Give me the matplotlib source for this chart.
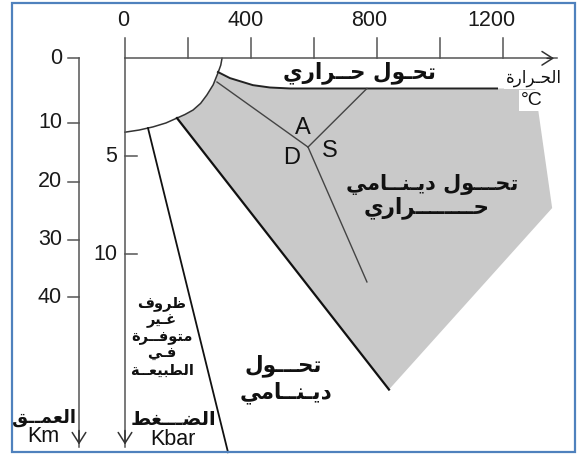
import numpy as np
import matplotlib
matplotlib.use("Agg")
import matplotlib.pyplot as plt
from matplotlib.patches import Polygon, Rectangle

# ---------------- data (temperature in °C, pressure in kbar) ----------------
temp_ticks = [0, 200, 400, 600, 800, 1000, 1200]
temp_labels = ["0", "", "400", "", "800", "", "1200"]
pressure_ticks = [5, 10]
pressure_labels = ["5", "10"]
depth_labels = ["0", "10", "20", "30", "40"]
depth_tick_P = [0.0, 3.3, 6.3, 9.27, 12.18]   # where the km ticks sit on the kbar scale

# limit of metamorphism (diagenesis arc)
arc_T = [308, 304, 295, 280, 260, 240, 216, 190, 165, 130, 89, 45, 0]
arc_P = [0.0, 0.35, 0.75, 1.35, 1.87, 2.30, 2.64, 2.87, 3.05, 3.30, 3.50, 3.66, 3.77]

# lower limit of contact (thermal) metamorphism
contact_T = [295, 333, 406, 460, 524, 1181]
contact_P = [0.70, 1.01, 1.37, 1.49, 1.54, 1.54]

# outer edge of the dynamo-thermal field
field_T = [1302, 1356, 838]
field_P = [1.54, 7.64, 16.9]

# boundary between dynamo-thermal and dynamic metamorphism
dyn_T = [165, 838]
dyn_P = [3.05, 16.9]

# limit of conditions not found in nature
imp_T = [73, 327]
imp_P = [3.56, 20.1]

# Al2SiO5 triple point and its three reactions
ky_and_T, ky_and_P = [292, 581], [1.21, 4.53]
and_sil_T, and_sil_P = [581, 768], [4.53, 1.54]
ky_sil_T, ky_sil_P = [581, 768], [4.53, 11.41]

# ---------------- Arabic shaping (presentation forms + RTL) ----------------
AR_FORMS = {
    "\u0627": (0xFE8D, 0xFE8E, None, None),
    "\u0628": (0xFE8F, 0xFE90, 0xFE91, 0xFE92),
    "\u0629": (0xFE93, 0xFE94, None, None),
    "\u062A": (0xFE95, 0xFE96, 0xFE97, 0xFE98),
    "\u062D": (0xFEA1, 0xFEA2, 0xFEA3, 0xFEA4),
    "\u062F": (0xFEA9, 0xFEAA, None, None),
    "\u0631": (0xFEAD, 0xFEAE, None, None),
    "\u0636": (0xFEBD, 0xFEBE, 0xFEBF, 0xFEC0),
    "\u0637": (0xFEC1, 0xFEC2, 0xFEC3, 0xFEC4),
    "\u0638": (0xFEC5, 0xFEC6, 0xFEC7, 0xFEC8),
    "\u0639": (0xFEC9, 0xFECA, 0xFECB, 0xFECC),
    "\u063A": (0xFECD, 0xFECE, 0xFECF, 0xFED0),
    "\u0641": (0xFED1, 0xFED2, 0xFED3, 0xFED4),
    "\u0642": (0xFED5, 0xFED6, 0xFED7, 0xFED8),
    "\u0644": (0xFEDD, 0xFEDE, 0xFEDF, 0xFEE0),
    "\u0645": (0xFEE1, 0xFEE2, 0xFEE3, 0xFEE4),
    "\u0646": (0xFEE5, 0xFEE6, 0xFEE7, 0xFEE8),
    "\u0648": (0xFEED, 0xFEEE, None, None),
    "\u064A": (0xFEF1, 0xFEF2, 0xFEF3, 0xFEF4),
}
TATWEEL = "\u0640"


def _dual(c):
    return c == TATWEEL or (c in AR_FORMS and AR_FORMS[c][2] is not None)


def _joins(c):
    return c == TATWEEL or c in AR_FORMS


def ar(s):
    out = []
    for i, c in enumerate(s):
        if c not in AR_FORMS:
            out.append(c)
            continue
        prev = s[i - 1] if i > 0 else " "
        nxt = s[i + 1] if i < len(s) - 1 else " "
        jp = _dual(prev)
        jn = _dual(c) and _joins(nxt)
        f = AR_FORMS[c]
        if jp and jn:
            code = f[3]
        elif jp:
            code = f[1]
        elif jn:
            code = f[2]
        else:
            code = f[0]
        out.append(chr(code))
    return "".join(out)[::-1]


# ---------------- figure ----------------
W, H = 580, 457
fig = plt.figure(figsize=(W / 100, H / 100), dpi=100)
ax = fig.add_axes([0, 0, 1, 1])
ax.axis("off")
ax.set_xlim(-396.8, 1444.4)
ax.set_ylim(20.342, -2.974)

AR_FONT = ["DejaVu Sans"]
LAT_FONT = ["Liberation Sans", "DejaVu Sans"]
AXC = "#555555"
TXT = "#111111"

# frame
fig.patches.append(Rectangle((12 / W, 5 / H), 563 / W, 449 / H, transform=fig.transFigure,
                             fill=False, edgecolor="#4f81bd", lw=1.6, zorder=10))

# gray dynamo-thermal field
arc_part = [(t, p) for t, p in zip(arc_T, arc_P) if contact_P[0] < p < dyn_P[0]][::-1]
poly = (list(zip(contact_T[:-1], contact_P[:-1])) + list(zip(field_T, field_P))
        + [(dyn_T[0], dyn_P[0])] + arc_part)
ax.add_patch(Polygon(poly, closed=True, facecolor="#c9c9c9", edgecolor="none", zorder=1))

# boundaries
ax.plot(arc_T, arc_P, color="#333333", lw=1.1, zorder=2)
ax.plot(contact_T, contact_P, color="#222222", lw=1.4, zorder=2)
ax.plot(dyn_T, dyn_P, color="#111111", lw=1.6, zorder=2)
ax.plot(imp_T, imp_P, color="#111111", lw=1.3, zorder=2)
for tt, pp in [(ky_and_T, ky_and_P), (and_sil_T, and_sil_P), (ky_sil_T, ky_sil_P)]:
    ax.plot(tt, pp, color="#444444", lw=1.0, zorder=2)

ARROW = dict(arrowstyle="->,head_length=0.55,head_width=0.35", color="#333333",
             lw=1.1, mutation_scale=14)

# temperature axis
T_end = 1371
ax.plot([0, T_end], [0, 0], color=AXC, lw=1.1, zorder=5)
ax.annotate("", xy=(T_end, 0), xytext=(T_end - 40, 0), arrowprops=ARROW, zorder=6)
for t, lab in zip(temp_ticks, temp_labels):
    ax.plot([t, t], [0, -1.02], color=AXC, lw=1.1, zorder=2)
    if lab:
        ax.text(t - 0.025 * t - 6, -1.95, lab, ha="center", va="center",
                fontsize=15.5, family=LAT_FONT, color="#1a1a1a")

# pressure axis
P_end = 19.85
ax.plot([0, 0], [0, P_end], color=AXC, lw=1.1, zorder=2)
ax.annotate("", xy=(0, P_end), xytext=(0, P_end - 1), arrowprops=ARROW, zorder=3)
for p, lab in zip(pressure_ticks, pressure_labels):
    ax.plot([0, 38], [p, p], color=AXC, lw=1.1, zorder=2)
    ax.text(-25, p, lab, ha="right", va="center", fontsize=15.5, family=LAT_FONT, color="#1a1a1a")

# depth axis
T_depth = -146
ax.plot([T_depth, T_depth], [0, P_end], color=AXC, lw=1.1, zorder=2)
ax.annotate("", xy=(T_depth, P_end), xytext=(T_depth, P_end - 1), arrowprops=ARROW, zorder=3)
for p, lab in zip(depth_tick_P, depth_labels):
    ax.plot([T_depth - 35, T_depth], [p, p], color=AXC, lw=1.1, zorder=2)
    ax.text(T_depth - 54, p, lab, ha="right", va="center", fontsize=15.5, family=LAT_FONT,
            color="#1a1a1a")

# triple-point letters
for lab, t, p in [("A", 565, 3.55), ("S", 651, 4.75), ("D", 530, 5.10)]:
    ax.text(t, p, lab, ha="center", va="center", fontsize=17, family=LAT_FONT, color=TXT)

# Arabic labels
AR_KW = dict(ha="center", va="center", family=AR_FONT, fontweight="bold", color=TXT, zorder=4)
ax.text(746, 0.72, ar("تحـول حــراري"), fontsize=15.5, **AR_KW)

# temperature axis title (on a white patch cut out of the gray field)
ax.text(1297, 1.0, ar("الحـرارة"), ha="center", va="center", family=AR_FONT,
        fontsize=12, color=TXT, zorder=4,
        bbox=dict(facecolor="white", edgecolor="none", pad=1.5))
ax.text(1292, 2.15, "°C", ha="center", va="center", family=LAT_FONT, fontsize=14,
        color=TXT, zorder=4, bbox=dict(facecolor="white", edgecolor="none", pad=1.5))

ax.text(975, 6.46, ar("تحـــول ديـنــامي"), fontsize=15, **AR_KW)
ax.text(956, 7.62, ar("حــــــــراري"), fontsize=15.5, **AR_KW)

nature_lines = ["ظروف", "غـير", "متوفــرة", "فـي", "الطبيعــة"]
ax.text(117, 14.2, "\n".join(ar(s) for s in nature_lines), fontsize=10.5,
        linespacing=1.1, **AR_KW)

ax.text(503, 15.7, ar("تحـــول"), fontsize=15.5, **AR_KW)
ax.text(511, 17.05, ar("ديـنــامي"), fontsize=15.5, **AR_KW)

ax.text(-257, 18.35, ar("العمــق"), fontsize=13, **AR_KW)
ax.text(-260, 19.32, "Km", ha="center", va="center", fontsize=15.5, family=LAT_FONT,
        color=TXT, zorder=4)
ax.text(155, 18.45, ar("الضـــغط"), fontsize=14, **AR_KW)
ax.text(152, 19.47, "Kbar", ha="center", va="center", fontsize=15.5, family=LAT_FONT,
        color=TXT, zorder=4)

fig.savefig("out.png", dpi=100)
